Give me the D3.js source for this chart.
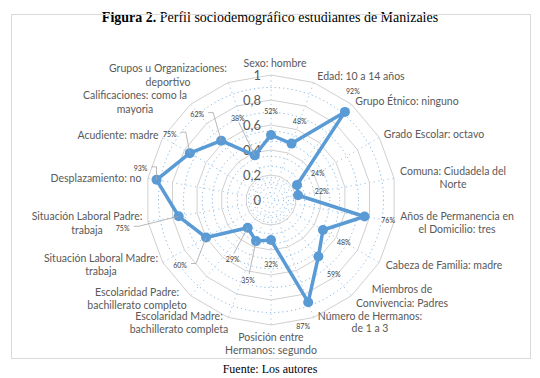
<!DOCTYPE html>
<html>
<head>
<meta charset="utf-8">
<script src="https://cdn.jsdelivr.net/npm/d3@7"></script>
<style>
  body { margin: 0; background: #fff; }
  svg { display: block; }
</style>
</head>
<body>
<div id="chart"></div>
<script>
// Categories (clockwise from the top) and their shares
const categories = [
  ["Sexo: hombre"],
  ["Edad: 10 a 14 años"],
  ["Grupo Étnico: ninguno"],
  ["Grado Escolar: octavo"],
  ["Comuna: Ciudadela del", "Norte"],
  ["Años de Permanencia en", "el Domicilio: tres"],
  ["Cabeza de Familia: madre"],
  ["Miembros de", "Convivencia: Padres"],
  ["Número de Hermanos:", "de 1 a 3"],
  ["Posición entre", "Hermanos: segundo"],
  ["Escolaridad Madre:", "bachillerato completa"],
  ["Escolaridad Padre:", "bachillerato completo"],
  ["Situación Laboral Madre:", "trabaja"],
  ["Situación Laboral Padre:", "trabaja"],
  ["Desplazamiento: no"],
  ["Acudiente: madre"],
  ["Calificaciones: como la", "mayoria"],
  ["Grupos u Organizaciones:", "deportivo"]
];
const values = [0.52, 0.48, 0.92, 0.24, 0.22, 0.76, 0.48, 0.59, 0.87, 0.32,
                0.35, 0.29, 0.60, 0.75, 0.93, 0.75, 0.62, 0.38];
const ticks = [0, 0.2, 0.4, 0.6, 0.8, 1];
const tickLabels = ["0", "0,2", "0,4", "0,6", "0,8", "1"];

// layout: where Excel put the category labels (centre of first line)
const catLabelPos = [
  [275, 63], [361, 76], [407, 101], [434, 134], [453, 171], [457, 216],
  [444, 265], [402, 289], [370, 316], [271, 337], [179, 316], [137, 292],
  [101, 258], [87, 216], [96, 178], [118, 135], [135, 95], [168, 68]
];
const catLineGap = [0, 0, 0, 0, 13, 13, 0, 14, 12, 13, 13, 13, 13, 14, 0, 0, 14, 14];
// data labels with a leader line: offset from the point
const leaderOffsets = {
  10: [-8, 39], 11: [-15, 32], 12: [-26, 28], 13: [-56, 12],
  14: [-16, -11], 15: [-20, -19], 16: [-24, -26], 17: [-17, -37]
};
// plain offsets for labels that Excel moved off the radial
const labelNudge = { 2: [8, -20], 8: [-5, 24] };

const width = 540, height = 378;
const cx = 271, cy = 200, R = 125;
const blue = "#5b9bd5";
const n = categories.length;

const svg = d3.select("#chart").append("svg")
  .attr("width", width)
  .attr("height", height);

// title
const title = svg.append("text")
  .attr("x", 270).attr("y", 22)
  .attr("text-anchor", "middle")
  .style("font-family", "'Liberation Serif', 'Times New Roman', serif")
  .style("font-size", "14px")
  .attr("fill", "#000");
title.append("tspan").attr("font-weight", "bold").text("Figura 2.");
title.append("tspan").text(" Perfil sociodemográfico estudiantes de Manizales");

// frame
svg.append("rect")
  .attr("x", 11.5).attr("y", 14.5)
  .attr("width", 519).attr("height", 344)
  .attr("fill", "none")
  .attr("stroke", "#d9d9d9");

svg.append("text")
  .attr("x", 270).attr("y", 373)
  .attr("text-anchor", "middle")
  .style("font-family", "'Liberation Serif', 'Times New Roman', serif")
  .style("font-size", "12px")
  .text("Fuente: Los autores");

const r = d3.scaleLinear().domain([0, 1]).range([0, R]);
const angle = d3.scaleLinear().domain([0, n]).range([0, 2 * Math.PI]);
const px = (i, v) => r(v) * Math.sin(angle(i));
const py = (i, v) => -r(v) * Math.cos(angle(i));

const g = svg.append("g").attr("transform", `translate(${cx},${cy})`);

const ring = v => d3.lineRadial()
  .angle((d, i) => angle(i))
  .radius(() => r(v))
  .curve(d3.curveLinearClosed)(d3.range(n));

// blue dotted inner grid
const dotted = [0.03, 0.06, 0.1, 0.14, 0.18, 0.27, 0.35, 0.47, 0.55, 0.7, 0.9];
g.selectAll(".dring").data(dotted).enter().append("circle")
  .attr("r", d => r(d))
  .attr("fill", "none")
  .attr("stroke", blue)
  .attr("stroke-opacity", 0.75)
  .attr("stroke-width", 1)
  .attr("stroke-dasharray", "1.2,3");

g.selectAll(".spoke").data(d3.range(n)).enter().append("line")
  .attr("x1", i => px(i, 0.12)).attr("y1", i => py(i, 0.12))
  .attr("x2", i => px(i, 1)).attr("y2", i => py(i, 1))
  .attr("stroke", blue)
  .attr("stroke-opacity", 0.6)
  .attr("stroke-dasharray", "1.2,3.5");

// gray solid rings
g.selectAll(".ring").data(ticks.slice(1)).enter().append("path")
  .attr("d", d => ring(d))
  .attr("fill", "none")
  .attr("stroke", "#d0d0d0")
  .attr("stroke-width", 1);

// axis tick labels
g.selectAll(".tick").data(ticks).enter().append("text")
  .attr("x", -10)
  .attr("y", d => -r(d) + 5)
  .attr("text-anchor", "end")
  .style("font-family", "Lato, 'Open Sans', sans-serif")
  .style("font-size", "13px")
  .attr("fill", "#595959")
  .text((d, i) => tickLabels[i]);

// data line
g.append("path")
  .datum(values)
  .attr("d", d3.lineRadial()
    .angle((d, i) => angle(i))
    .radius(d => r(d))
    .curve(d3.curveLinearClosed))
  .attr("fill", "none")
  .attr("stroke", blue)
  .attr("stroke-width", 3.5)
  .attr("stroke-linejoin", "round");

g.selectAll(".pt").data(values).enter().append("circle")
  .attr("cx", (d, i) => px(i, d))
  .attr("cy", (d, i) => py(i, d))
  .attr("r", 5)
  .attr("fill", blue);

// data labels
values.forEach((v, i) => {
  const x0 = px(i, v), y0 = py(i, v);
  let lx, ly;
  const off = leaderOffsets[i];
  if (off) {
    lx = x0 + off[0]; ly = y0 + off[1];
    let sx, sy, ex;
    if (Math.abs(off[1]) > Math.abs(off[0]) * 1.2) {
      sx = lx + 1; sy = ly + (off[1] > 0 ? -6 : 4);
      g.append("polyline")
        .attr("points", `${sx},${sy} ${x0},${y0}`)
        .attr("fill", "none").attr("stroke", "#a6a6a6").attr("stroke-width", 0.8);
    } else {
      sx = lx + 11; sy = ly - 2;
      ex = sx + 5;
      g.append("polyline")
        .attr("points", `${sx},${sy} ${ex},${sy} ${x0},${y0}`)
        .attr("fill", "none").attr("stroke", "#a6a6a6").attr("stroke-width", 0.8);
    }
  } else if (labelNudge[i]) {
    lx = x0 + labelNudge[i][0];
    ly = y0 + labelNudge[i][1];
  } else {
    lx = x0 + 24 * Math.sin(angle(i));
    ly = y0 - 24 * Math.cos(angle(i));
  }
  g.append("text")
    .attr("x", lx).attr("y", ly + 2.5)
    .attr("text-anchor", "middle")
    .style("font-family", "Lato, sans-serif")
    .style("font-size", "7px")
    .attr("fill", "#404040")
    .text(Math.round(v * 100) + "%");
});

// category labels
categories.forEach((lines, i) => {
  const [x, y] = catLabelPos[i];
  const t = svg.append("text")
    .attr("text-anchor", "middle")
    .style("font-family", "Lato, 'Open Sans', sans-serif")
    .style("font-size", "10.5px")
    .attr("fill", "#595959");
  lines.forEach((s, k) => {
    t.append("tspan").attr("x", x).attr("y", y + 3.5 + k * catLineGap[i]).text(s);
  });
});
</script>
</body>
</html>
